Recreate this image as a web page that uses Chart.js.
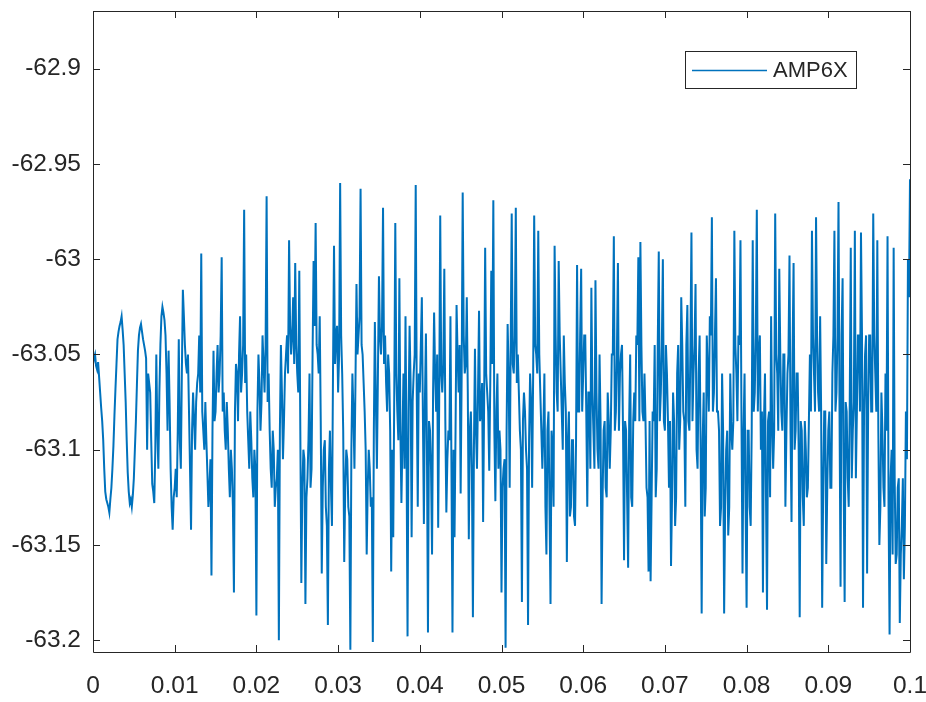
<!DOCTYPE html>
<html><head><meta charset="utf-8">
<script src="https://cdn.jsdelivr.net/npm/chart.js@4.4.0/dist/chart.umd.min.js"></script>
<style>html,body{margin:0;padding:0;background:#fff}#wrap{width:926px;height:702px}</style>
</head><body><div id="wrap"><canvas id="c" width="926" height="702"></canvas></div>
<script>
const seriesName = 'AMP6X';
const t0 = 0, dt = 0.000125;
const amp6x = [
-63.055,-63.052,-63.050,-63.056,-63.058,-63.054,-63.062,-63.070,-63.078,-63.085,
-63.095,-63.110,-63.122,-63.126,-63.128,-63.130,-63.133,-63.126,-63.120,-63.110,
-63.098,-63.082,-63.068,-63.055,-63.042,-63.038,-63.035,-63.033,-63.030,-63.037,
-63.045,-63.060,-63.075,-63.095,-63.112,-63.122,-63.128,-63.126,-63.130,-63.124,
-63.115,-63.100,-63.085,-63.066,-63.048,-63.040,-63.036,-63.034,-63.038,-63.042,
-63.045,-63.048,-63.052,-63.100,-63.060,-63.065,-63.070,-63.095,-63.118,-63.122,
-63.128,-63.100,-63.050,-63.090,-63.110,-63.070,-63.045,-63.030,-63.025,-63.028,
-63.032,-63.040,-63.060,-63.090,-63.048,-63.075,-63.110,-63.130,-63.142,-63.125,
-63.120,-63.110,-63.125,-63.090,-63.042,-63.095,-63.110,-63.060,-63.016,-63.030,
-63.045,-63.055,-63.060,-63.050,-63.080,-63.110,-63.142,-63.090,-63.070,-63.085,
-63.100,-63.075,-63.065,-63.060,-63.040,-63.070,-62.997,-63.080,-63.090,-63.100,
-63.075,-63.095,-63.112,-63.130,-63.120,-63.105,-63.166,-63.090,-63.048,-63.085,
-63.080,-63.060,-63.045,-63.070,-63.060,-63.040,-62.999,-63.080,-63.070,-63.090,
-63.100,-63.075,-63.090,-63.110,-63.125,-63.100,-63.110,-63.130,-63.175,-63.080,
-63.055,-63.060,-63.085,-63.050,-63.030,-63.070,-63.060,-63.045,-62.974,-63.065,
-63.050,-63.080,-63.095,-63.110,-63.080,-63.095,-63.115,-63.125,-63.100,-63.110,
-63.187,-63.080,-63.050,-63.065,-63.090,-63.075,-63.040,-63.055,-63.070,-63.045,
-62.967,-63.075,-63.060,-63.090,-63.110,-63.120,-63.090,-63.100,-63.130,-63.120,
-63.115,-63.100,-63.200,-63.090,-63.045,-63.070,-63.105,-63.085,-63.060,-63.050,
-63.040,-63.060,-62.990,-63.035,-63.050,-63.040,-63.020,-63.055,-63.002,-63.045,
-63.060,-63.070,-63.006,-63.090,-63.170,-63.120,-63.100,-63.105,-63.181,-63.125,
-63.115,-63.095,-63.060,-63.120,-63.110,-63.050,-63.001,-63.035,-62.981,-63.045,
-63.050,-63.060,-63.030,-63.085,-63.165,-63.120,-63.100,-63.095,-63.130,-63.140,
-63.192,-63.110,-63.090,-63.120,-63.140,-63.060,-62.993,-63.055,-63.040,-63.035,
-63.070,-63.050,-62.960,-63.040,-63.060,-63.090,-63.159,-63.120,-63.100,-63.105,
-63.130,-63.135,-63.205,-63.100,-63.060,-63.080,-63.110,-63.065,-63.013,-63.050,
-63.040,-63.030,-62.963,-63.045,-63.050,-63.065,-63.080,-63.100,-63.155,-63.120,
-63.100,-63.110,-63.130,-63.125,-63.201,-63.090,-63.033,-63.075,-63.110,-63.060,
-63.009,-63.040,-63.050,-63.035,-62.973,-63.055,-63.040,-63.065,-63.080,-63.050,
-63.060,-63.090,-63.164,-63.100,-63.146,-63.070,-62.981,-63.060,-63.080,-63.095,
-63.010,-63.090,-63.128,-63.095,-63.060,-63.110,-63.030,-63.100,-63.198,-63.080,
-63.035,-63.065,-63.146,-63.075,-63.060,-63.050,-62.961,-63.070,-63.130,-63.060,
-63.070,-63.045,-63.020,-63.080,-63.139,-63.075,-63.039,-63.100,-63.196,-63.085,
-63.090,-63.110,-63.155,-63.070,-63.028,-63.060,-63.080,-63.050,-63.141,-63.075,
-62.977,-63.060,-63.070,-63.055,-63.005,-63.085,-63.133,-63.105,-63.090,-63.095,
-63.030,-63.110,-63.196,-63.100,-63.146,-63.090,-63.024,-63.050,-63.070,-63.045,
-63.123,-63.060,-62.965,-63.040,-63.060,-63.055,-63.020,-63.070,-63.147,-63.090,
-63.080,-63.110,-63.188,-63.100,-63.047,-63.090,-63.110,-63.070,-63.027,-63.085,
-63.080,-63.065,-63.138,-63.075,-62.994,-63.060,-63.070,-63.080,-63.111,-63.065,
-63.006,-63.055,-62.969,-63.090,-63.127,-63.080,-63.060,-63.110,-63.090,-63.100,
-63.175,-63.120,-63.110,-63.105,-63.204,-63.090,-63.034,-63.060,-63.120,-63.045,
-62.976,-63.055,-63.060,-63.040,-62.973,-63.065,-63.050,-63.070,-63.090,-63.100,
-63.180,-63.085,-63.070,-63.080,-63.100,-63.110,-63.192,-63.095,-63.060,-63.075,
-63.120,-63.060,-62.977,-63.045,-63.050,-63.060,-62.985,-63.050,-63.070,-63.090,
-63.110,-63.090,-63.060,-63.130,-63.155,-63.090,-63.080,-63.130,-63.181,-63.090,
-63.100,-63.130,-62.993,-63.040,-63.070,-63.080,-63.001,-63.040,-63.060,-63.080,
-63.100,-63.040,-63.065,-63.080,-63.159,-63.095,-63.080,-63.135,-63.130,-63.095,
-63.095,-63.135,-63.140,-63.095,-63.003,-63.080,-63.080,-63.040,-63.005,-63.080,
-63.060,-63.040,-63.040,-63.080,-63.130,-63.070,-63.070,-63.110,-63.015,-63.070,
-63.090,-63.110,-63.011,-63.070,-63.100,-63.110,-63.050,-63.085,-63.181,-63.125,
-63.090,-63.085,-63.120,-63.125,-63.070,-63.085,-63.110,-63.090,-63.050,-63.050,
-62.988,-63.090,-63.080,-63.050,-63.002,-63.090,-63.060,-63.050,-63.045,-63.090,
-63.158,-63.085,-63.090,-63.125,-63.162,-63.085,-63.050,-63.125,-63.130,-63.085,
-63.070,-63.085,-63.040,-63.045,-62.999,-63.085,-62.991,-63.045,-63.080,-63.085,
-63.060,-63.085,-63.120,-63.125,-63.164,-63.085,-63.169,-63.125,-63.080,-63.085,
-63.045,-63.125,-63.110,-63.045,-62.996,-63.085,-63.070,-63.045,-63.000,-63.085,
-63.090,-63.045,-63.060,-63.085,-63.120,-63.085,-63.161,-63.125,-63.070,-63.085,
-63.140,-63.125,-63.060,-63.045,-63.100,-63.085,-63.020,-63.045,-63.080,-63.085,
-63.130,-63.045,-63.024,-63.085,-63.090,-63.045,-62.986,-63.085,-63.060,-63.045,
-63.013,-63.100,-63.110,-63.060,-63.040,-63.100,-63.186,-63.095,-63.070,-63.135,
-63.120,-63.040,-63.060,-63.080,-63.030,-63.040,-62.978,-63.080,-63.070,-63.040,
-63.010,-63.080,-63.080,-63.090,-63.140,-63.130,-63.060,-63.090,-63.186,-63.130,
-63.100,-63.090,-63.145,-63.130,-63.060,-63.090,-63.100,-63.085,-62.985,-63.045,
-63.060,-63.085,-63.040,-63.045,-62.990,-63.085,-63.165,-63.090,-63.060,-63.130,
-63.183,-63.090,-63.090,-63.130,-63.140,-63.090,-62.990,-63.080,-63.070,-63.040,
-62.974,-63.080,-63.050,-63.040,-63.100,-63.080,-63.175,-63.085,-63.060,-63.125,
-63.184,-63.085,-63.080,-63.125,-63.030,-63.085,-63.110,-63.090,-62.976,-63.050,
-63.060,-63.090,-63.005,-63.050,-63.080,-63.090,-63.050,-63.050,-63.130,-63.090,
-63.060,-63.050,-62.998,-63.090,-63.138,-63.050,-63.002,-63.100,-63.090,-63.060,
-63.060,-63.100,-63.188,-63.085,-63.090,-63.125,-63.140,-63.085,-63.100,-63.125,
-63.120,-63.085,-63.050,-63.080,-62.985,-63.040,-63.060,-63.080,-62.978,-63.040,
-63.070,-63.080,-63.030,-63.080,-63.183,-63.120,-63.080,-63.080,-63.160,-63.120,
-63.090,-63.080,-63.120,-63.120,-63.060,-63.040,-62.985,-63.080,-63.070,-63.040,
-62.970,-63.080,-63.172,-63.040,-63.010,-63.115,-63.180,-63.075,-63.080,-63.115,
-63.130,-63.075,-62.994,-63.115,-63.090,-63.075,-62.985,-63.115,-63.080,-63.040,
-63.040,-63.080,-62.986,-63.040,-63.183,-63.080,-63.050,-63.040,-63.165,-63.080,
-63.040,-63.040,-63.080,-63.080,-62.976,-63.040,-63.060,-63.080,-62.990,-63.090,
-63.150,-63.130,-63.070,-63.090,-63.120,-63.130,-63.060,-63.090,-62.988,-63.130,
-63.197,-63.115,-63.100,-63.155,-62.994,-63.115,-63.160,-63.155,-63.120,-63.115,
-63.191,-63.155,-63.140,-63.115,-63.168,-63.140,-63.080,-63.105,-63.000,-63.020,
-62.958
];
const xTicks = [0,0.01,0.02,0.03,0.04,0.05,0.06,0.07,0.08,0.09,0.1];
const xTickLabels = ['0','0.01','0.02','0.03','0.04','0.05','0.06','0.07','0.08','0.09','0.1'];
const yTicks = [-63.2,-63.15,-63.1,-63.05,-63,-62.95,-62.9];
const yTickLabels = ['-63.2','-63.15','-63.1','-63.05','-63','-62.95','-62.9'];
const xRange = [0, 0.1];
const yRange = [-63.2062, -62.8697];

const lineColor = '#0072BD';
const axisColor = '#262626';
const fontFamily = '"Liberation Sans", Arial, Helvetica, sans-serif';

const points = amp6x.map((v, i) => ({x: t0 + i * dt, y: v}));

const frame = {
  id: 'frame',
  afterDraw(chart) {
    const {ctx, chartArea: a, scales} = chart;
    ctx.save();
    ctx.strokeStyle = axisColor;
    ctx.lineWidth = 1;
    ctx.beginPath();
    ctx.rect(Math.round(a.left) + 0.5, Math.round(a.top) + 0.5, Math.round(a.right - a.left), Math.round(a.bottom - a.top));
    ctx.stroke();
    const tl = 7;
    ctx.beginPath();
    xTicks.forEach(v => {
      const px = Math.round(scales.x.getPixelForValue(v)) + 0.5;
      ctx.moveTo(px, a.bottom); ctx.lineTo(px, a.bottom - tl);
      ctx.moveTo(px, a.top); ctx.lineTo(px, a.top + tl);
    });
    yTicks.forEach(v => {
      const py = Math.round(scales.y.getPixelForValue(v)) + 0.5;
      ctx.moveTo(a.left, py); ctx.lineTo(a.left + tl, py);
      ctx.moveTo(a.right, py); ctx.lineTo(a.right - tl, py);
    });
    ctx.stroke();
    // legend
    const lx = 685, ly = 51, lw = 171, lh = 37;
    ctx.fillStyle = '#ffffff';
    ctx.fillRect(lx, ly, lw, lh);
    ctx.strokeStyle = axisColor;
    ctx.strokeRect(lx + 0.5, ly + 0.5, lw, lh);
    ctx.strokeStyle = lineColor;
    ctx.lineWidth = 1.5;
    ctx.beginPath();
    ctx.moveTo(692, ly + 19.5); ctx.lineTo(767, ly + 19.5);
    ctx.stroke();
    ctx.fillStyle = axisColor;
    ctx.font = '22px ' + fontFamily;
    ctx.textBaseline = 'middle';
    ctx.textAlign = 'left';
    ctx.fillText(seriesName, 773, ly + 20);
    ctx.restore();
  }
};

new Chart(document.getElementById('c'), {
  type: 'line',
  data: {
    datasets: [{
      label: seriesName,
      data: points,
      borderColor: lineColor,
      borderWidth: 2,
      pointRadius: 0,
      tension: 0,
      fill: false
    }]
  },
  options: {
    responsive: false,
    animation: false,
    devicePixelRatio: 1,
    parsing: false,
    layout: {padding: {left: 0, right: 16, top: 11, bottom: 0}},
    plugins: {legend: {display: false}, tooltip: {enabled: false}},
    scales: {
      x: {
        type: 'linear',
        min: xRange[0], max: xRange[1],
        afterBuildTicks: s => { s.ticks = xTicks.map(v => ({value: v})); },
        afterFit: s => { s.height = 50; s.paddingLeft = 0; s.paddingRight = 0; },
        grid: {display: false, drawTicks: false},
        border: {display: false},
        ticks: {
          autoSkip: false, maxRotation: 0, padding: 20,
          color: axisColor,
          font: {family: fontFamily, size: 24.5},
          callback: (v, i) => xTickLabels[i]
        }
      },
      y: {
        type: 'linear',
        min: yRange[0], max: yRange[1],
        afterBuildTicks: s => { s.ticks = yTicks.map(v => ({value: v})); },
        afterFit: s => { s.width = 93; s.paddingTop = 0; s.paddingBottom = 0; },
        grid: {display: false, drawTicks: false},
        border: {display: false},
        ticks: {
          autoSkip: false, padding: 12,
          color: axisColor,
          font: {family: fontFamily, size: 24.5},
          callback: (v, i) => yTickLabels[i]
        }
      }
    }
  },
  plugins: [frame]
});
</script>
</body></html>
